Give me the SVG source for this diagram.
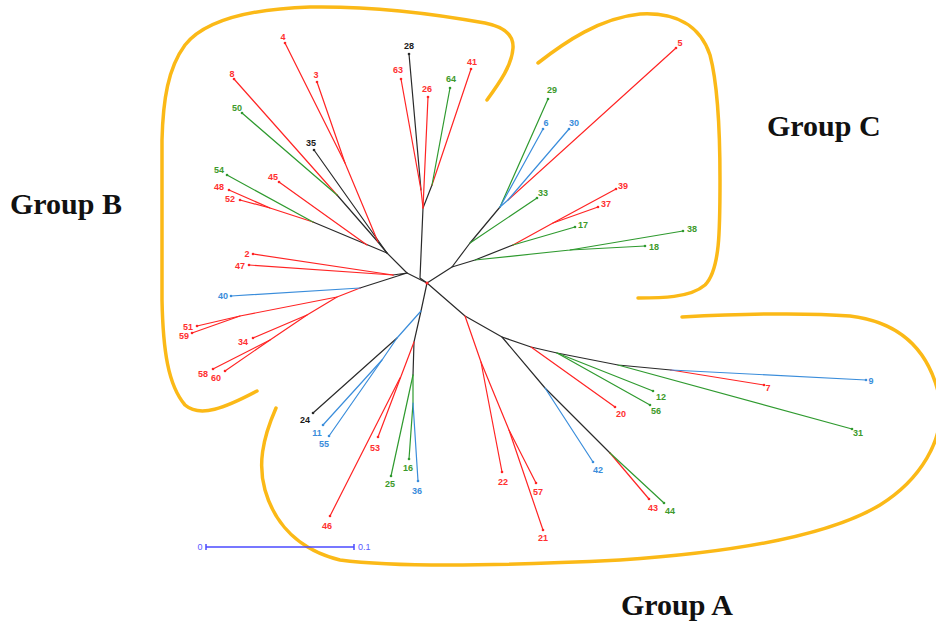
<svg xmlns="http://www.w3.org/2000/svg" width="936" height="621" viewBox="0 0 936 621">
<style>
.k{stroke:#2a2a2a}.r{stroke:#ff2424}.g{stroke:#2f9a2f}.b{stroke:#3a8ddb}
#edges line,#edges polyline{fill:none;stroke-width:1.2;stroke-linecap:round;stroke-linejoin:round}
.t{font-family:"Liberation Sans",Arial,sans-serif;font-size:9px;font-weight:bold;text-anchor:middle}
.tr{fill:#ff3030}.tg{fill:#3d9a2a}.tb{fill:#3a8ddb}.tk{fill:#1a1a1a}
.dr{fill:#ff2424}.dg{fill:#2f9a2f}.db{fill:#3a8ddb}.dk{fill:#2a2a2a}
.outline{fill:none;stroke:#fbb917;stroke-width:3.5;stroke-linecap:round}
.grp{font-family:"Liberation Serif","Times New Roman",serif;font-size:30px;font-weight:bold;fill:#111}
.sb{stroke:#4a4aff;stroke-width:1.5;fill:none}
.st{font-family:"Liberation Sans",Arial,sans-serif;font-size:9px;fill:#5a5aff}
</style>

<g id="outlines">
<path class="outline" d="M487,100 C500,82 512,65 513,48 C514,32 500,26 485,23 C430,13 370,6 310,7 C250,9 205,20 185,45 C168,68 163,100 162,140 L162,300 C163,350 168,385 185,405 C200,418 225,408 257,391"/>
<path class="outline" d="M538,63 C565,42 600,18 640,14 C675,12 700,25 710,55 C718,85 720,130 720,180 C720,230 720,270 705,285 C690,298 660,298 638,298"/>
<path class="outline" d="M682,317 C740,314 800,312 850,316 C900,322 930,350 940,400 C945,440 920,480 880,505 C830,535 740,552 620,560 C500,566 400,568 340,560 C300,550 275,525 265,490 C258,465 262,440 276,408"/>
</g>

<g id="edges">
<polyline class="k" points="427,283 407,273"/>
<polyline class="k" points="427,283 420,278 423,208 432,185"/>
<polyline class="k" points="421,190 409,54"/>
<polyline class="k" points="407,273 387,253 313,222"/>
<polyline class="k" points="387,253 314,150"/>
<polyline class="k" points="387,253 378,242 337,195"/>
<polyline class="k" points="393,275 407,273 360,288"/>
<polyline class="k" points="427,283 421,311 414,342 413,375"/>
<polyline class="k" points="397,338 313,413"/>
<polyline class="k" points="427,283 465,316 502,337 531,347 557,353 618,365 671,370"/>
<polyline class="k" points="502,337 545,388 610,453"/>
<polyline class="k" points="427,283 452,267 470,243 500,207"/>
<polyline class="k" points="452,267 475,260 513,245"/>
<polyline class="r" points="423,208 421,190 401,79"/>
<polyline class="r" points="423,208 428,97"/>
<polyline class="r" points="432,185 471,69"/>
<polyline class="r" points="313,222 270,208 229,190"/>
<polyline class="r" points="270,208 240,200"/>
<polyline class="r" points="367,245 279,182"/>
<polyline class="r" points="378,242 345,163 285,43"/>
<polyline class="r" points="345,163 317,82"/>
<polyline class="r" points="337,195 234,79"/>
<polyline class="r" points="393,275 253,254"/>
<polyline class="r" points="393,275 249,265"/>
<polyline class="r" points="360,288 337,297 240,316 197,326"/>
<polyline class="r" points="240,316 192,333"/>
<polyline class="r" points="337,297 307,315 253,338"/>
<polyline class="r" points="307,315 270,340 213,369"/>
<polyline class="r" points="270,340 225,371"/>
<polyline class="r" points="414,342 378,437"/>
<polyline class="r" points="400,378 330,516"/>
<polyline class="r" points="465,316 481,362 502,472"/>
<polyline class="r" points="481,362 509,430 536,483"/>
<polyline class="r" points="509,430 543,530"/>
<polyline class="r" points="610,453 649,499"/>
<polyline class="r" points="531,347 615,407"/>
<polyline class="r" points="671,370 764,385"/>
<polyline class="r" points="513,245 553,223 616,189"/>
<polyline class="r" points="553,223 598,207"/>
<polyline class="r" points="508,200 676,48"/>
<polyline class="g" points="432,185 450,88"/>
<polyline class="g" points="313,222 227,175"/>
<polyline class="g" points="337,195 242,113"/>
<polyline class="g" points="413,375 391,476"/>
<polyline class="g" points="413,375 413,403 409,459"/>
<polyline class="g" points="610,453 664,503"/>
<polyline class="g" points="557,353 653,391"/>
<polyline class="g" points="557,353 650,405"/>
<polyline class="g" points="618,365 852,429"/>
<polyline class="g" points="470,243 537,198"/>
<polyline class="g" points="500,207 548,99"/>
<polyline class="g" points="475,260 570,250 683,231"/>
<polyline class="g" points="570,250 645,246"/>
<polyline class="g" points="513,245 575,227"/>
<polyline class="b" points="360,288 231,296"/>
<polyline class="b" points="421,311 397,338 382,360 323,425"/>
<polyline class="b" points="382,360 329,436"/>
<polyline class="b" points="413,403 418,481"/>
<polyline class="b" points="545,388 593,462"/>
<polyline class="b" points="671,370 866,380"/>
<polyline class="b" points="500,207 543,129"/>
<polyline class="b" points="500,207 508,200 569,129"/>
</g>
<circle cx="427" cy="283" r="1.6" fill="#ff2424"/>

<g id="n4"><circle class="dr" cx="285" cy="43" r="1.3"/><text class="t tr" x="283" y="40">4</text></g>
<g id="n3"><circle class="dr" cx="317" cy="82" r="1.3"/><text class="t tr" x="316" y="78">3</text></g>
<g id="n8"><circle class="dr" cx="234" cy="79" r="1.3"/><text class="t tr" x="232" y="77">8</text></g>
<g id="n50"><circle class="dg" cx="242" cy="113" r="1.3"/><text class="t tg" x="237" y="111">50</text></g>
<g id="n35"><circle class="dk" cx="314" cy="150" r="1.3"/><text class="t tk" x="311" y="146">35</text></g>
<g id="n54"><circle class="dg" cx="227" cy="175" r="1.3"/><text class="t tg" x="219" y="173">54</text></g>
<g id="n45"><circle class="dr" cx="279" cy="182" r="1.3"/><text class="t tr" x="273" y="180">45</text></g>
<g id="n48"><circle class="dr" cx="229" cy="190" r="1.3"/><text class="t tr" x="219" y="190">48</text></g>
<g id="n52"><circle class="dr" cx="240" cy="200" r="1.3"/><text class="t tr" x="230" y="202">52</text></g>
<g id="n28"><circle class="dk" cx="409" cy="54" r="1.3"/><text class="t tk" x="409" y="49">28</text></g>
<g id="n63"><circle class="dr" cx="401" cy="79" r="1.3"/><text class="t tr" x="398" y="73">63</text></g>
<g id="n26"><circle class="dr" cx="428" cy="97" r="1.3"/><text class="t tr" x="427" y="92">26</text></g>
<g id="n64"><circle class="dg" cx="450" cy="88" r="1.3"/><text class="t tg" x="451" y="82">64</text></g>
<g id="n41"><circle class="dr" cx="471" cy="69" r="1.3"/><text class="t tr" x="472" y="65">41</text></g>
<g id="n2"><circle class="dr" cx="253" cy="254" r="1.3"/><text class="t tr" x="247" y="257">2</text></g>
<g id="n47"><circle class="dr" cx="249" cy="265" r="1.3"/><text class="t tr" x="240" y="269">47</text></g>
<g id="n40"><circle class="db" cx="231" cy="296" r="1.3"/><text class="t tb" x="223" y="299">40</text></g>
<g id="n51"><circle class="dr" cx="197" cy="326" r="1.3"/><text class="t tr" x="188" y="330">51</text></g>
<g id="n59"><circle class="dr" cx="192" cy="333" r="1.3"/><text class="t tr" x="184" y="339">59</text></g>
<g id="n34"><circle class="dr" cx="253" cy="338" r="1.3"/><text class="t tr" x="243" y="345">34</text></g>
<g id="n58"><circle class="dr" cx="213" cy="369" r="1.3"/><text class="t tr" x="203" y="377">58</text></g>
<g id="n60"><circle class="dr" cx="225" cy="371" r="1.3"/><text class="t tr" x="216" y="381">60</text></g>

<g id="n24"><circle class="dk" cx="313" cy="413" r="1.3"/><text class="t tk" x="305" y="423">24</text></g>
<g id="n11"><circle class="db" cx="323" cy="425" r="1.3"/><text class="t tb" x="317" y="436">11</text></g>
<g id="n55"><circle class="db" cx="329" cy="436" r="1.3"/><text class="t tb" x="324" y="447">55</text></g>
<g id="n53"><circle class="dr" cx="378" cy="437" r="1.3"/><text class="t tr" x="375" y="451">53</text></g>
<g id="n46"><circle class="dr" cx="330" cy="516" r="1.3"/><text class="t tr" x="327" y="529">46</text></g>
<g id="n25"><circle class="dg" cx="391" cy="476" r="1.3"/><text class="t tg" x="390" y="487">25</text></g>
<g id="n16"><circle class="dg" cx="409" cy="459" r="1.3"/><text class="t tg" x="408" y="471">16</text></g>
<g id="n36"><circle class="db" cx="418" cy="481" r="1.3"/><text class="t tb" x="417" y="494">36</text></g>
<g id="n22"><circle class="dr" cx="502" cy="472" r="1.3"/><text class="t tr" x="503" y="485">22</text></g>
<g id="n57"><circle class="dr" cx="536" cy="483" r="1.3"/><text class="t tr" x="538" y="495">57</text></g>
<g id="n21"><circle class="dr" cx="543" cy="530" r="1.3"/><text class="t tr" x="543" y="541">21</text></g>
<g id="n42"><circle class="db" cx="593" cy="462" r="1.3"/><text class="t tb" x="598" y="473">42</text></g>
<g id="n43"><circle class="dr" cx="649" cy="499" r="1.3"/><text class="t tr" x="653" y="511">43</text></g>
<g id="n44"><circle class="dg" cx="664" cy="503" r="1.3"/><text class="t tg" x="670" y="514">44</text></g>
<g id="n20"><circle class="dr" cx="615" cy="407" r="1.3"/><text class="t tr" x="621" y="417">20</text></g>
<g id="n12"><circle class="dg" cx="653" cy="391" r="1.3"/><text class="t tg" x="661" y="400">12</text></g>
<g id="n56"><circle class="dg" cx="650" cy="405" r="1.3"/><text class="t tg" x="656" y="414">56</text></g>
<g id="n31"><circle class="dg" cx="852" cy="429" r="1.3"/><text class="t tg" x="858" y="436">31</text></g>
<g id="n7"><circle class="dr" cx="764" cy="385" r="1.3"/><text class="t tr" x="768" y="391">7</text></g>
<g id="n9"><circle class="db" cx="866" cy="380" r="1.3"/><text class="t tb" x="871" y="384">9</text></g>

<g id="n29"><circle class="dg" cx="548" cy="99" r="1.3"/><text class="t tg" x="552" y="93">29</text></g>
<g id="n6"><circle class="db" cx="543" cy="129" r="1.3"/><text class="t tb" x="546" y="126">6</text></g>
<g id="n30"><circle class="db" cx="569" cy="129" r="1.3"/><text class="t tb" x="574" y="126">30</text></g>
<g id="n5"><circle class="dr" cx="676" cy="48" r="1.3"/><text class="t tr" x="680" y="46">5</text></g>
<g id="n33"><circle class="dg" cx="537" cy="198" r="1.3"/><text class="t tg" x="543" y="196">33</text></g>
<g id="n39"><circle class="dr" cx="616" cy="189" r="1.3"/><text class="t tr" x="623" y="189">39</text></g>
<g id="n37"><circle class="dr" cx="598" cy="207" r="1.3"/><text class="t tr" x="606" y="207">37</text></g>
<g id="n17"><circle class="dg" cx="575" cy="227" r="1.3"/><text class="t tg" x="583" y="228">17</text></g>
<g id="n38"><circle class="dg" cx="683" cy="231" r="1.3"/><text class="t tg" x="692" y="232">38</text></g>
<g id="n18"><circle class="dg" cx="645" cy="246" r="1.3"/><text class="t tg" x="654" y="250">18</text></g>

<g id="scalebar">
<line class="sb" x1="206" y1="547" x2="354" y2="547"/>
<line class="sb" x1="206" y1="544" x2="206" y2="550"/>
<line class="sb" x1="354" y1="544" x2="354" y2="550"/>
<text class="st" x="200" y="550" text-anchor="middle">0</text>
<text class="st" x="358" y="550">0.1</text>
</g>

<g id="labels">
<text class="grp" x="10" y="214">Group B</text>
<text class="grp" x="767" y="136">Group C</text>
<text class="grp" x="621" y="615">Group A</text>
</g>
</svg>
